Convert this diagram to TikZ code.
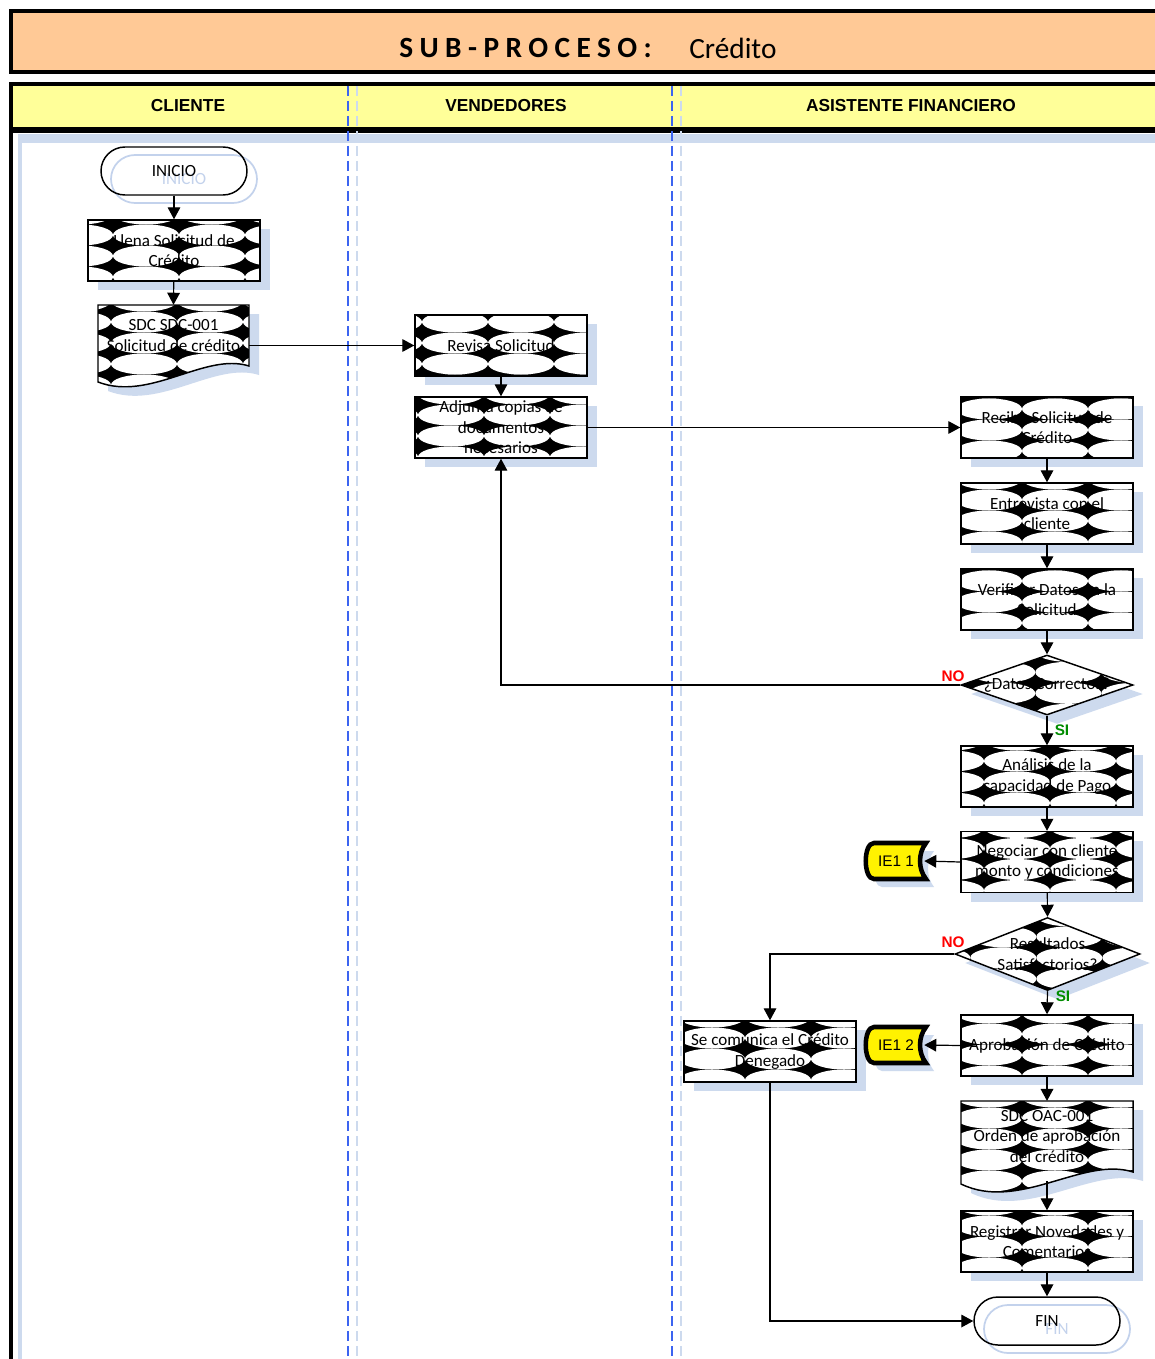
\documentclass[tikz,border=0pt]{standalone}
\usepackage{fontspec}
\setmainfont{Carlito}
\newfontfamily\arialf{Liberation Sans}
\usetikzlibrary{arrows.meta,shapes.geometric,shadows,calc}
\definecolor{orangeT}{RGB}{255,201,150}
\definecolor{yellowH}{RGB}{255,255,153}
\definecolor{shb}{RGB}{205,218,238}
\definecolor{lanec}{RGB}{60,100,240}
\definecolor{ghost}{RGB}{195,210,236}
\definecolor{okgreen}{RGB}{0,140,0}
\newcommand{\ieshape}[2]{%
  \begin{scope}[shift={(#1,#2)}]
    \fill[shb] (-14,-10) -- (38,-10) .. controls (30,0) and (30,16) .. (38,26) -- (-14,26) .. controls (-25,26) and (-25,-10) .. cycle;
    \filldraw[fill=yellow, draw=black, line width=3.4pt] (-22,-18) -- (30,-18) .. controls (22,-8) and (22,8) .. (30,18) -- (-22,18) .. controls (-33,18) and (-33,-18) .. cycle;
  \end{scope}}
\begin{document}
\begin{tikzpicture}[x=0.75pt,y=-0.75pt,
  every node/.style={inner sep=0pt},
  pat/.style 2 args={path picture={
    \fill[black] (path picture bounding box.south west) rectangle (path picture bounding box.north east);
    \foreach \i in {0,...,4}{\foreach \j in {0,...,6}{
      \fill[white] ([shift={({#1+66*\i},{#2+21*\j})}]path picture bounding box.north west) ellipse [x radius=33, y radius=10.5];}}}},
  sh/.style={drop shadow={shadow xshift=7.5pt, shadow yshift=-6.75pt, fill=shb, opacity=1}},
  txt/.style={font=\fontsize{12.8}{15.4}\selectfont, align=center},
  box/.style={rectangle, draw=black, line width=1.1pt, minimum width=129pt, minimum height=45.75pt, txt, sh},
  dia/.style={diamond, draw=black, line width=1.1pt, sh},
  term/.style={rectangle, rounded corners=18pt, draw=black, line width=1.1pt, minimum width=109.5pt, minimum height=36pt, txt},
  ghostterm/.style={rectangle, rounded corners=18pt, draw=ghost, line width=1.3pt, minimum width=109.5pt, minimum height=36pt, txt, text=ghost},
  arr/.style={draw=black, line width=0.9pt, -{Triangle[length=9pt,width=9.5pt]}},
  hdr/.style={font=\arialf\bfseries\fontsize{13}{15}\selectfont},
  lbl/.style={font=\arialf\bfseries\fontsize{11.5}{13}\selectfont},
  iet/.style={font=\arialf\fontsize{11.5}{13}\selectfont, minimum width=42pt, minimum height=27pt}
]
\useasboundingbox (0,0) rectangle (1155,1359);
\clip (0,0) rectangle (1155,1359);
\fill[white] (0,0) rectangle (1155,1359);
% title
\draw[line width=3.5pt, fill=orangeT] (11,11) rectangle (1175,72);
\node[anchor=west, font=\fontsize{22}{26}\selectfont\bfseries\addfontfeature{LetterSpace=22}] (title1) at (399,48) {SUB-PROCESO:};
\node[anchor=west, font=\fontsize{22}{26}\selectfont] (title2) at (689,48) {Crédito};
% header
\fill[yellowH] (11,84) rectangle (1175,130);
\draw[line width=3.5pt] (1175,84) -- (11,84) -- (11,1370);
\draw[line width=4.5pt] (11,130) -- (1175,130);
\fill[shb] (18,134) rectangle (1175,143);
\fill[shb] (18,134) rectangle (22,1370);
\draw[shb, line width=1.3pt, dash pattern=on 7.5pt off 3.75pt] (357,86) -- (357,1370);
\draw[shb, line width=1.3pt, dash pattern=on 7.5pt off 3.75pt] (681,86) -- (681,1370);
\draw[lanec, line width=0.9pt, dash pattern=on 7.5pt off 3.75pt] (348,86) -- (348,1370);
\draw[lanec, line width=0.9pt, dash pattern=on 7.5pt off 3.75pt] (672,86) -- (672,1370);
\node[hdr] (h1) at (188,106) {CLIENTE};
\node[hdr] (h2) at (506,106) {VENDEDORES};
\node[hdr] (h3) at (911,106) {ASISTENTE FINANCIERO};

% CLIENTE lane
\node[ghostterm] (inig) at (184,179) {INICIO};
\node[term] (ini) at (174,171) {INICIO};
\node[box, pat={-8}{-6}] (llena) at (174,250.5) {Llena Solicitud de\\Crédito};
\path[draw=black, line width=1.1pt, sh, pat={-20}{-4}] (98,305) -- (249,305) -- (249,366) .. controls (205,352) and (150,402) .. (98,382) -- cycle;
\node[txt, minimum width=113pt, minimum height=45.75pt] (doc1) at (173.5,335.5) {SDC SDC-001\\Solicitud de crédito};

% VENDEDORES lane
\node[box, pat={-26}{-14}] (rev) at (501,345.5) {Revisa Solicitud};
\node[box, pat={-30}{-3}] (adj) at (501,427.5) {Adjunta copias de\\documentos\\necesarios};

% ASISTENTE lane
\node[box, pat={-38}{-9}] (rec) at (1047,427.5) {Recibe Solicitud de\\Crédito};
\node[box, pat={-38}{-4}] (ent) at (1047,513.5) {Entrevista con el\\cliente};
\node[box, pat={-38}{-9}] (ver) at (1047,599.5) {Verificar Datos en la\\Solicitud};
\node[dia, minimum width=129pt, minimum height=45pt, pat={-25}{-4}] (d1) at (1047,685) {};
\node[txt] (d1t) at (1047,685) {¿Datos Correctos?};
\node[box, pat={-10}{-6}] (ana) at (1047,776.5) {Análisis de la\\capacidad de Pago};
\node[box, pat={-10}{-4}] (neg) at (1047,862) {Negociar con cliente\\monto y condiciones};
\node[dia, minimum width=138.75pt, minimum height=54.75pt, pat={-18}{-2}] (d2) at (1047.5,954) {};
\node[txt] (d2t) at (1047.5,954) {Resultados\\Satisfactorios?};
\node[box, pat={-38}{-2}] (apr) at (1047,1045.5) {Aprobación de Crédito};
\node[box, pat={-38}{-4}] (sec) at (770,1051.5) {Se comunica el Crédito\\Denegado};
\path[draw=black, line width=1.1pt, sh, pat={-38}{-4}] (961,1101) -- (1133,1101) -- (1133,1172) .. controls (1083,1156) and (1019,1212) .. (961,1184) -- cycle;
\node[txt, minimum width=129pt, minimum height=53pt] (doc2) at (1047,1136.5) {SDC OAC-001\\Orden de aprobación\\del crédito};
\coordinate (doc2b) at (1047,1181);
\node[box, pat={-38}{-6}] (reg) at (1047,1241.5) {Registrar Novedades y\\Comentarios};
\node[ghostterm] (fing) at (1057,1329) {FIN};
\node[term] (fin) at (1047,1321) {FIN};

% off-page markers
\ieshape{896}{861}
\node[iet] (ie1) at (896,861) {IE1 1};
\ieshape{896}{1045}
\node[iet] (ie2) at (896,1045) {IE1 2};

% connectors
\draw[arr] (ini) -- (llena);
\draw[arr] (llena) -- (doc1.north);
\draw[arr] (rev.west -| doc1.east) -- (rev.west);
\draw[arr] (rev) -- (adj);
\draw[arr] (adj.east) -- (rec.west);
\draw[arr] (rec) -- (ent);
\draw[arr] (ent) -- (ver);
\draw[arr] (ver) -- (d1.north);
\draw[arr] (d1.west) -| (adj.south);
\draw[arr] (d1.south) -- (ana.north);
\draw[arr] (ana) -- (neg);
\draw[arr] (neg.west) -- (ie1.east);
\draw[arr] (neg) -- (d2.north);
\draw[arr] (d2.west) -| (sec.north);
\draw[arr] (d2.south) -- (apr.north);
\draw[arr] (apr.west) -- (ie2.east);
\draw[arr] (apr) -- (doc2.north);
\draw[arr] (doc2b) -- (reg.north);
\draw[arr] (reg) -- (fin);
\draw[arr] (sec.south) |- (fin.west);

% labels
\node[lbl, text=red] (no1) at (953,676) {NO};
\node[lbl, text=okgreen] (si1) at (1062,730) {SI};
\node[lbl, text=red] (no2) at (953,942) {NO};
\node[lbl, text=okgreen] (si2) at (1063,996) {SI};
\end{tikzpicture}
\end{document}
